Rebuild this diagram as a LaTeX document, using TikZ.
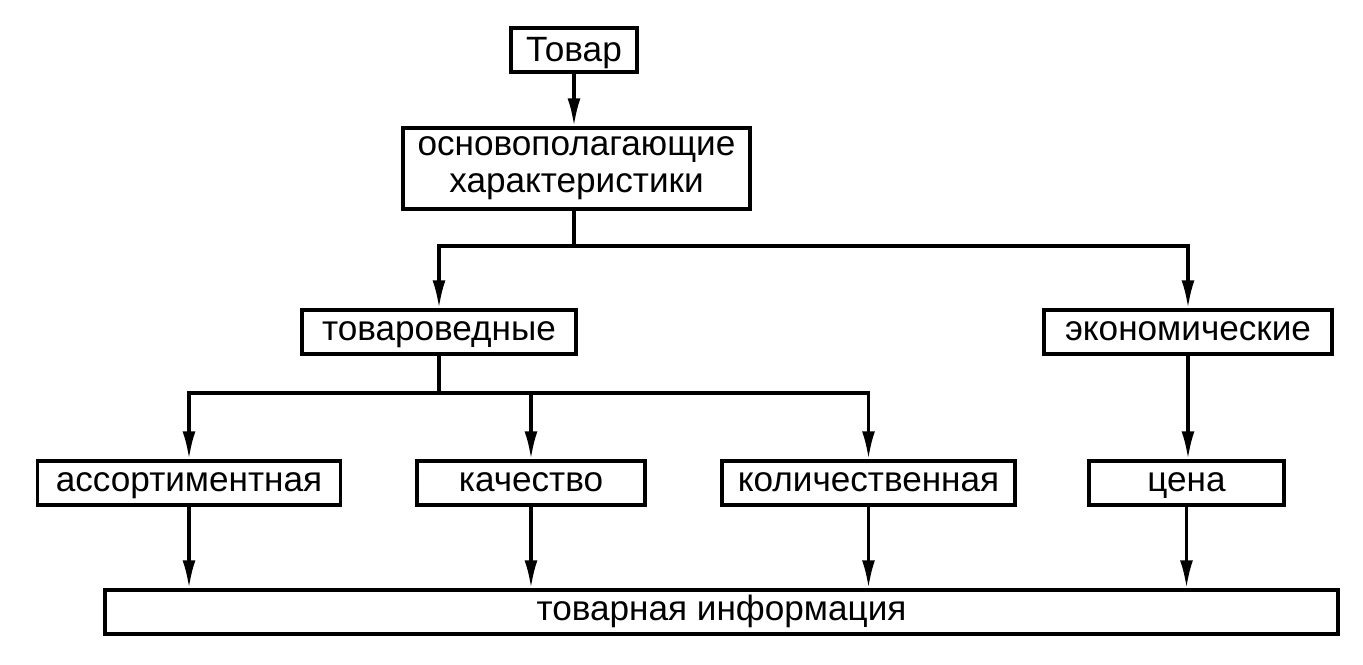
\documentclass[tikz,border=0pt]{standalone}
\usepackage{fontspec}
\setmainfont{Liberation Sans}
\usetikzlibrary{arrows.meta}
\begin{document}
\begin{tikzpicture}[x=0.02cm,y=-0.02cm,
  box/.style={draw,line width=1.9pt,rectangle,inner sep=0pt,minimum height=0.88cm,
    align=center,font=\fontsize{20}{25}\selectfont,text height=12pt,text depth=2pt},
  conn/.style={line width=1.9pt},
  arr/.style={line width=1.9pt,-{Latex[length=0.56cm,width=0.26cm]}}]
\useasboundingbox (0,0) rectangle (1363,664);
\node[box,minimum width=2.52cm,text height=13.5pt,text depth=0.5pt] (tovar) at (574,50) {Товар};
\node[box,minimum width=6.94cm,minimum height=1.62cm,text height=,text depth=,
  font=\fontsize{20}{21}\selectfont] (osnov) at (576.5,168.5) {основополагающие\\характеристики};
\node[box,minimum width=5.48cm] (tovaroved) at (439,332) {товароведные};
\node[box,minimum width=5.76cm] (ekonom) at (1188,332) {экономические};
\node[box,minimum width=6.06cm] (assort) at (189,483) {ассортиментная};
\node[box,minimum width=4.56cm] (kach) at (531,483) {качество};
\node[box,minimum width=5.86cm] (kolich) at (868.5,483) {количественная};
\node[box,minimum width=3.9cm] (cena) at (1186.5,483) {цена};
\node[box,minimum width=24.66cm] (info) at (721.5,612) {товарная информация};
\coordinate (j1) at (574,246);
\coordinate (j2) at (437,393);
% top
\draw[arr] (tovar.south) -- (osnov.north -| tovar.south);
\draw[conn] (osnov.south -| j1) -- (j1);
\draw[arr] (j1) -| (tovaroved.north);
\draw[arr] (j1) -| (ekonom.north);
% second level
\draw[conn] (tovaroved.south) -- (tovaroved.south |- j2);
\draw[arr] (tovaroved.south |- j2) -| (assort.north);
\draw[arr] (tovaroved.south |- j2) -| (kach.north);
\draw[arr] (tovaroved.south |- j2) -| (kolich.north);
\draw[arr] (ekonom.south) -- (ekonom.south |- cena.north);
% to info
\draw[arr] (assort.south) -- (assort.south |- info.north);
\draw[arr] (kach.south) -- (kach.south |- info.north);
\draw[arr] (kolich.south) -- (kolich.south |- info.north);
\draw[arr] (cena.south) -- (cena.south |- info.north);
\end{tikzpicture}
\end{document}
